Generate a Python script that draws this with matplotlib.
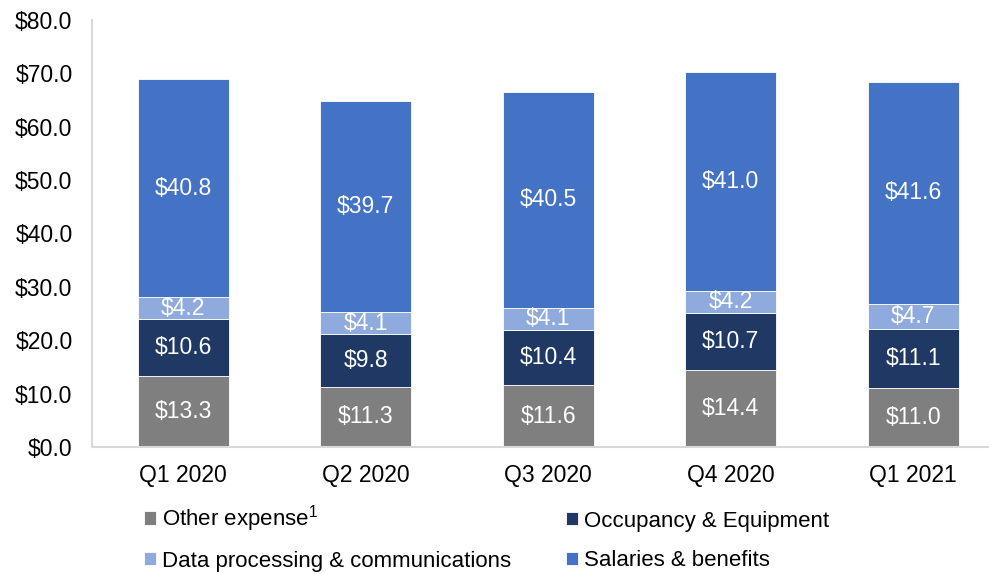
import matplotlib.pyplot as plt
import numpy as np

plt.rcParams["font.family"] = ["Liberation Sans", "DejaVu Sans"]
plt.rcParams["mathtext.fontset"] = "custom"
plt.rcParams["mathtext.rm"] = "Liberation Sans"
plt.rcParams["mathtext.it"] = "Liberation Sans"

trimestres = ["Q1 2020", "Q2 2020", "Q3 2020", "Q4 2020", "Q1 2021"]
otros = [13.3, 11.3, 11.6, 14.4, 11.0]
ocupacion = [10.6, 9.8, 10.4, 10.7, 11.1]
datos = [4.2, 4.1, 4.1, 4.2, 4.7]
salarios = [40.8, 39.7, 40.5, 41.0, 41.6]

series = [
    ("Other expense$^{1}$", otros, "#7F7F7F"),
    ("Occupancy & Equipment", ocupacion, "#203864"),
    ("Data processing & communications", datos, "#8FAADC"),
    ("Salaries & benefits", salarios, "#4472C4"),
]

fig = plt.figure(figsize=(9.89, 5.74), dpi=100)
ax = fig.add_axes([92 / 989, 127 / 574, 897 / 989, 427 / 574])

x = np.arange(len(trimestres))
base = np.zeros(len(trimestres))
barras = {}
for nombre, valores, color in series:
    b = ax.bar(x, valores, width=0.5, bottom=base, color=color,
               edgecolor="#FFFFFF", linewidth=0.6, label=nombre)
    barras[nombre] = b
    # etiquetas de valor dentro de cada segmento
    for xi, v, b0 in zip(x, valores, base):
        ax.text(xi, b0 + v / 2, f"${v:.1f}", ha="center", va="center",
                color="white", fontsize=16.5)
    base = base + np.array(valores)

ax.set_ylim(0, 80)
ax.set_xlim(-0.5, -0.5 + 897 / 182.5)
ax.set_yticks(np.arange(0, 81, 10))
ax.set_yticklabels([f"${v:.1f}" for v in np.arange(0, 81, 10)], fontsize=16.5)
ax.set_xticks(x)
ax.set_xticklabels(trimestres, fontsize=16.5)
ax.tick_params(length=0)
ax.tick_params(axis="y", pad=14)
ax.tick_params(axis="x", pad=12.5)

for lado in ["top", "right"]:
    ax.spines[lado].set_visible(False)
for lado in ["left", "bottom"]:
    ax.spines[lado].set_color("#D9D9D9")
    ax.spines[lado].set_linewidth(1.5)

# una leyenda por entrada para fijar la rejilla 2x2
posiciones = {
    "Other expense$^{1}$": (144, 519),
    "Occupancy & Equipment": (566, 521),
    "Data processing & communications": (144, 561),
    "Salaries & benefits": (566, 561),
}
for nombre, (px, py) in posiciones.items():
    fig.legend([barras[nombre]], [nombre], loc="center left",
               bbox_to_anchor=(px / 989, 1 - py / 574),
               frameon=False, fontsize=16, handlelength=0.55,
               handleheight=0.55, handletextpad=0.25,
               borderaxespad=0, borderpad=0)

fig.savefig("out.png", dpi=100)
